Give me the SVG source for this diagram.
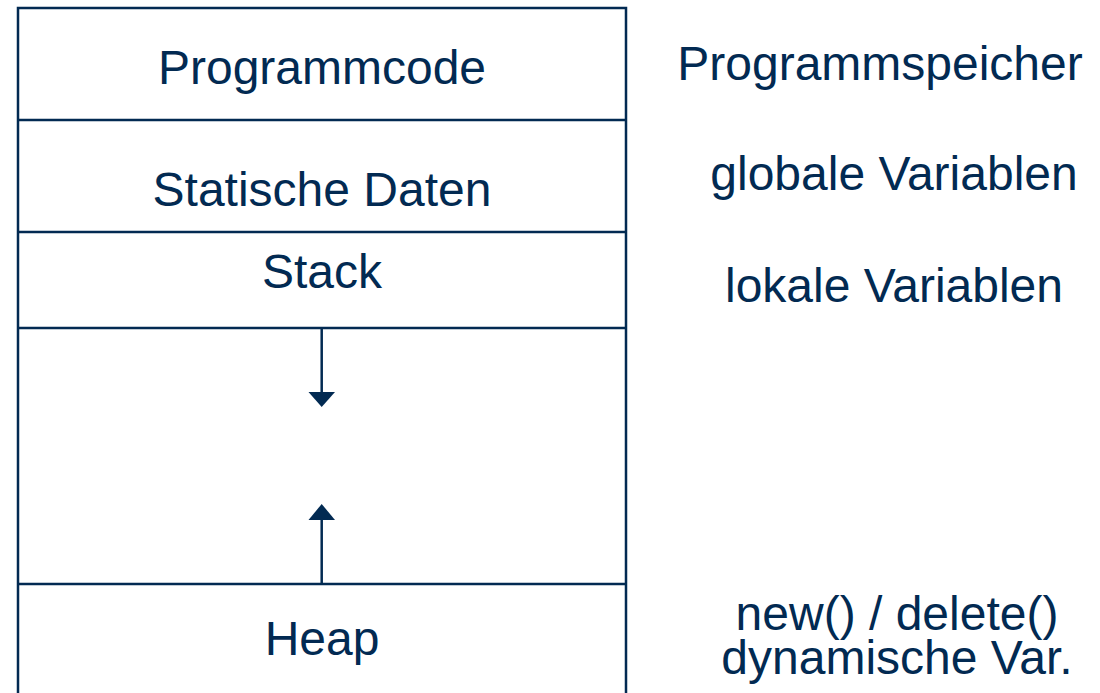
<svg xmlns="http://www.w3.org/2000/svg" width="1100" height="693" viewBox="0 0 1100 693">
<defs>
<style>
text{font-family:"Liberation Sans",Arial,sans-serif;font-size:48px;fill:#022a52;}
.c{text-anchor:middle;}
.ln{stroke:#022a52;stroke-width:2.5;fill:none;}
.ar{fill:#022a52;}
</style>
</defs>
<rect width="1100" height="693" fill="#ffffff"/>
<g id="frame">
<path class="ln" d="M18,700 V8 H626 V700"/>
</g>
<g id="programmcode">
<line class="ln" x1="18" y1="120" x2="626" y2="120"/>
<text class="c" x="322" y="84">Programmcode</text>
</g>
<g id="statische-daten">
<line class="ln" x1="18" y1="232" x2="626" y2="232"/>
<text class="c" x="322" y="206">Statische Daten</text>
</g>
<g id="stack">
<line class="ln" x1="18" y1="328" x2="626" y2="328"/>
<text class="c" x="322" y="288">Stack</text>
</g>
<g id="heap">
<line class="ln" x1="18" y1="584" x2="626" y2="584"/>
<text class="c" x="322" y="655">Heap</text>
</g>
<g id="connectors">
<line class="ln" x1="321.7" y1="328" x2="321.7" y2="394"/>
<polygon class="ar" points="308.5,392 335,392 321.7,407"/>
<line class="ln" x1="321.7" y1="584" x2="321.7" y2="518"/>
<polygon class="ar" points="308.5,520 335,520 321.7,504"/>
</g>
<g id="labels">
<text class="c" x="880" y="80">Programmspeicher</text>
<text class="c" x="894" y="190">globale Variablen</text>
<text class="c" x="894" y="302">lokale Variablen</text>
<text class="c"><tspan x="897" y="630">new() / delete()</tspan><tspan x="897" y="674">dynamische Var.</tspan></text>
</g>
</svg>
